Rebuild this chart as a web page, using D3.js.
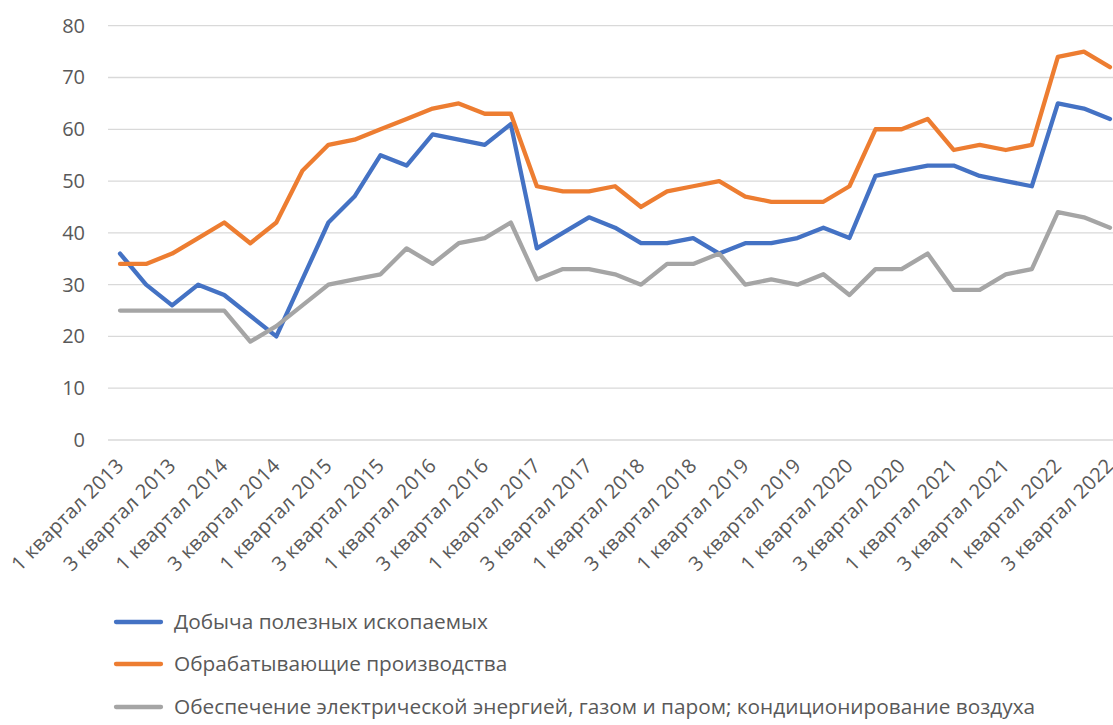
<!DOCTYPE html>
<html>
<head>
<meta charset="utf-8">
<script src="https://cdn.jsdelivr.net/npm/d3@7"></script>
<style>
  html, body { margin: 0; padding: 0; background: #fff; }
  svg { display: block; font-family: "Open Sans", "Noto Sans", sans-serif; }
</style>
</head>
<body>
<svg id="chart" width="1113" height="725"></svg>
<script>
const years = [2013, 2014, 2015, 2016, 2017, 2018, 2019, 2020, 2021, 2022];
const categories = [];
years.forEach(y => { [1, 2, 3, 4].forEach(q => { if (!(y === 2022 && q === 4)) categories.push(q + " квартал " + y); }); });

const seriesNames = [
  "Добыча полезных ископаемых",
  "Обрабатывающие производства",
  "Обеспечение электрической энергией, газом и паром; кондиционирование воздуха"
];
const mining = [36,30,26,30,28,24,20,31,42,47,55,53,59,58,57,61,37,40,43,41,38,38,39,36,38,38,39,41,39,51,52,53,53,51,50,49,65,64,62];
const manufacturing = [34,34,36,39,42,38,42,52,57,58,60,62,64,65,63,63,49,48,48,49,45,48,49,50,47,46,46,46,49,60,60,62,56,57,56,57,74,75,72];
const energy = [25,25,25,25,25,19,22,26,30,31,32,37,34,38,39,42,31,33,33,32,30,34,34,36,30,31,30,32,28,33,33,36,29,29,32,33,44,43,41];
const yTicks = [0, 10, 20, 30, 40, 50, 60, 70, 80];
const colors = ["#4472C4", "#ED7D31", "#A5A5A5"];

const series = [mining, manufacturing, energy];
const svg = d3.select("#chart");

const mLeft = 107, mRight = 1123, mTop = 25.7, mBottom = 440;
const x = d3.scaleBand().domain(categories).range([mLeft, mRight]);
const y = d3.scaleLinear().domain([0, 80]).range([mBottom, mTop]);

// gridlines
svg.append("g").selectAll("line").data(yTicks).join("line")
  .attr("x1", 108).attr("x2", 1113)
  .attr("y1", d => y(d)).attr("y2", d => y(d))
  .attr("stroke", "#D9D9D9").attr("stroke-width", 1.3);

// y axis labels
const yAxis = d3.axisLeft(y).tickValues(yTicks).tickSize(0).tickPadding(0);
const gy = svg.append("g").attr("transform", "translate(85,0)").call(yAxis);
gy.select(".domain").remove();
gy.selectAll("text").attr("font-size", 20).attr("fill", "#595959")
  .attr("font-family", "'Open Sans', sans-serif");

// x axis labels (every 2nd)
const xAxis = d3.axisBottom(x).tickValues(categories.filter((d, i) => i % 2 === 0)).tickSize(0);
const gx = svg.append("g").attr("transform", "translate(0,452)").call(xAxis);
gx.select(".domain").remove();
gx.selectAll("text")
  .attr("font-size", 20).attr("fill", "#595959")
  .attr("font-family", "'Open Sans', sans-serif")
  .attr("letter-spacing", "0.3px")
  .attr("text-anchor", "end")
  .attr("dy", "0.7em").attr("y", 0).attr("x", -7)
  .attr("transform", "rotate(-45)");

// lines
const line = d3.line().x((d, i) => x(categories[i]) + x.bandwidth() / 2).y(d => y(d));
series.forEach((s, k) => {
  svg.append("path").datum(s)
    .attr("d", line)
    .attr("fill", "none")
    .attr("stroke", colors[k])
    .attr("stroke-width", 4.3)
    .attr("stroke-linejoin", "round")
    .attr("stroke-linecap", "round");
});

// legend
const legendY = [622, 664, 707];
const lg = svg.append("g");
seriesNames.forEach((name, k) => {
  lg.append("line").attr("x1", 116).attr("x2", 161)
    .attr("y1", legendY[k]).attr("y2", legendY[k])
    .attr("stroke", colors[k]).attr("stroke-width", 4.3).attr("stroke-linecap", "round");
  lg.append("text").attr("x", 174).attr("y", legendY[k]).attr("dy", "0.35em")
    .attr("font-size", 20.8).attr("fill", "#595959").text(name);
});
</script>
</body>
</html>
